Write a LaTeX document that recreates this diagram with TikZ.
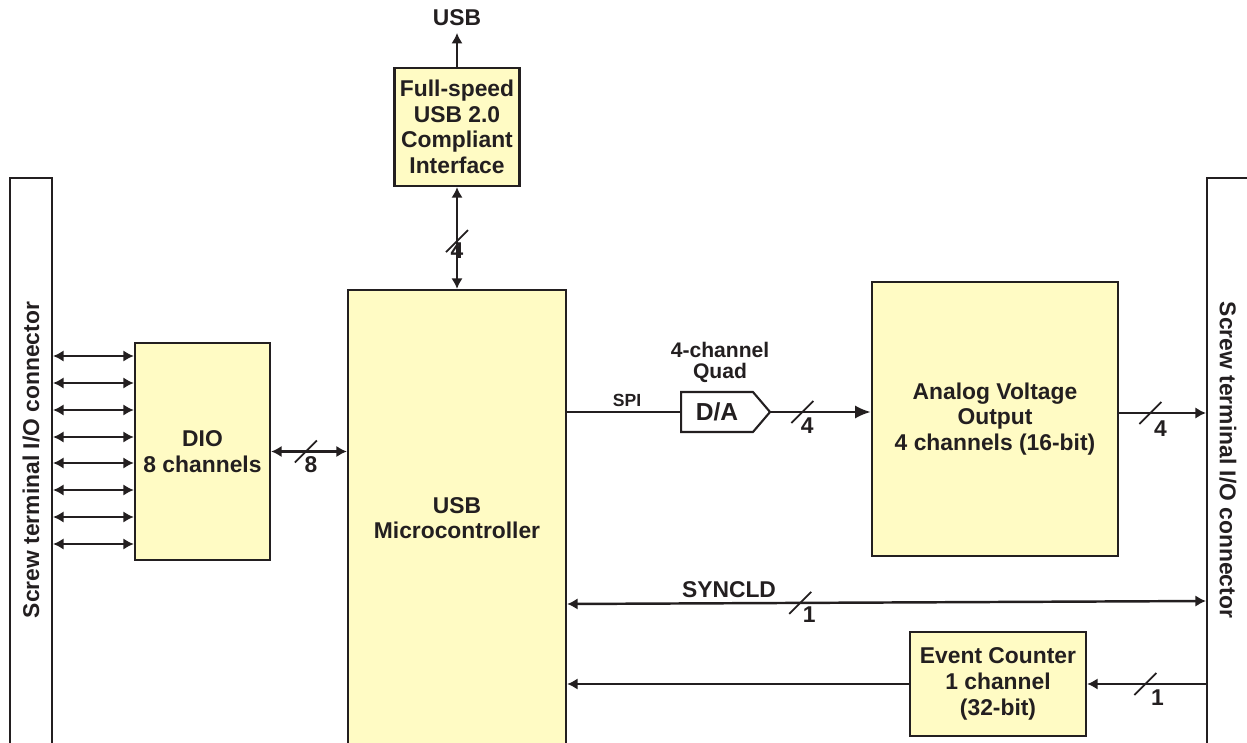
\documentclass[tikz,border=0pt]{standalone}
\usepackage{fontspec}
\setmainfont{Liberation Sans}
\usetikzlibrary{arrows.meta,shapes.symbols}
\definecolor{boxfill}{RGB}{255,251,196}
\definecolor{ink}{RGB}{35,31,32}
\begin{document}
\begin{tikzpicture}[x=0.02cm,y=-0.02cm,
  box/.style={draw=ink, fill=boxfill, line width=1.3pt, inner sep=0pt, align=center,
    font=\fontsize{13}{14.6}\selectfont\bfseries, text=ink},
  conn/.style={draw=ink, line width=1.2pt, inner sep=0pt, minimum width=0.84cm, minimum height=11.64cm},
  lbl/.style={font=\fontsize{13}{14.6}\selectfont\bfseries, text=ink, inner sep=0pt},
  wire/.style={draw=ink, line width=1.4pt},
  onearrow/.style={wire, -{Latex[length=6pt,width=6.5pt]}},
  bigarrow/.style={wire, -{Latex[length=9pt,width=7.5pt]}},
  twoarrow/.style={wire, {Latex[length=6pt,width=6.5pt]}-{Latex[length=6pt,width=6.5pt]}},
  slashmark/.style={draw=ink, line width=1pt},
]
\path[use as bounding box, clip] (0,0) rectangle (1247,743);

% connectors (terminal strips)
\node[conn] (lconn) at (31,469) {};
\node[lbl, rotate=90] (ltext) at (31,460) {Screw terminal I/O connector};
\node[conn] (rconn) at (1228,469) {};
\node[lbl, rotate=-90] (rtext) at (1228,460) {Screw terminal I/O connector};

% blocks
\node[box, minimum width=2.5cm, minimum height=2.36cm] (usbif) at (457,127) {Full-speed\\USB 2.0\\Compliant\\Interface};
\node[lbl, inner sep=0.13cm] (usblbl) at (457,18) {USB};
\node[box, minimum width=4.36cm, minimum height=9.12cm] (micro) at (457,518) {USB\\Microcontroller};
\node[box, minimum width=2.7cm, minimum height=4.34cm] (dio) at (202.5,451.5) {DIO\\8 channels};
\node[box, minimum width=4.92cm, minimum height=5.48cm] (analog) at (995,419) {Analog Voltage\\Output\\4 channels (16-bit)};
\node[box, minimum width=3.52cm, minimum height=2.08cm] (event) at (998,684) {Event Counter\\1 channel\\(32-bit)};
\node[draw=ink, fill=white, line width=1.2pt, signal, signal to=east, signal pointer angle=99,
  minimum width=1.78cm, minimum height=0.8cm, inner sep=0pt, text=ink, anchor=west,
  font=\fontsize{14}{16}\selectfont\bfseries] (da) at (680,412) {D/A};
\node[font=\fontsize{12}{11.9}\selectfont\bfseries, text=ink, align=center, inner sep=0pt] (dalbl) at (720,362) {4-channel\\Quad};
\node[font=\fontsize{10}{12}\selectfont\bfseries, text=ink, inner sep=0pt] (spilbl) at (627,400) {SPI};
\node[lbl] (syncld) at (729,590) {SYNCLD};

% USB
\draw[onearrow] (usbif.north) -- (usblbl.south);
\draw[twoarrow] (usbif.south) -- coordinate[pos=0.53] (s1) (micro.north);
\draw[slashmark] ([shift={(-11,11)}]s1) -- ([shift={(11,-11)}]s1);
\node[lbl] (n1) at ([shift={(0,10)}]s1) {4};

% DIO lines
\foreach \yy in {356,383,410,437,463,490,517,544} {
  \coordinate (row) at (0,\yy);
  \draw[twoarrow] (lconn.east |- row) -- (dio.west |- row);
}
\draw[twoarrow] (dio.east) -- coordinate[pos=0.46] (s2) (micro.west |- dio.east);
\draw[slashmark] ([shift={(-11,11)}]s2) -- ([shift={(11,-11)}]s2);
\node[lbl] (n2) at ([shift={(5,13)}]s2) {8};

% SPI / DA
\draw[wire] (micro.east |- da.west) -- (da.west);
\draw[bigarrow] (da.east) -- coordinate[pos=0.31] (s3) (analog.west |- da.east);
\draw[slashmark] ([shift={(-11,11)}]s3) -- ([shift={(11,-11)}]s3);
\node[lbl] (n3) at ([shift={(5,14)}]s3) {4};

% analog out
\coordinate (ya) at (0,413);
\draw[onearrow] (analog.east |- ya) -- coordinate[pos=0.36] (s4) (rconn.west |- ya);
\draw[slashmark] ([shift={(-11,11)}]s4) -- ([shift={(11,-11)}]s4);
\node[lbl] (n4) at ([shift={(10,16)}]s4) {4};

% SYNCLD
\coordinate (ys1) at (0,604);
\coordinate (ys2) at (0,601);
\draw[twoarrow] (micro.east |- ys1) -- coordinate[pos=0.365] (s5) (rconn.west |- ys2);
\draw[slashmark] ([shift={(-11,11)}]s5) -- ([shift={(11,-11)}]s5);
\node[lbl] (n5) at ([shift={(9,12)}]s5) {1};

% event counter
\draw[onearrow] (rconn.west |- event.east) -- coordinate[pos=0.51] (s6) (event.east);
\draw[slashmark] ([shift={(-11,11)}]s6) -- ([shift={(11,-11)}]s6);
\node[lbl] (n6) at ([shift={(12,14)}]s6) {1};
\draw[onearrow] (event.west) -- (micro.east |- event.west);
\end{tikzpicture}
\end{document}
